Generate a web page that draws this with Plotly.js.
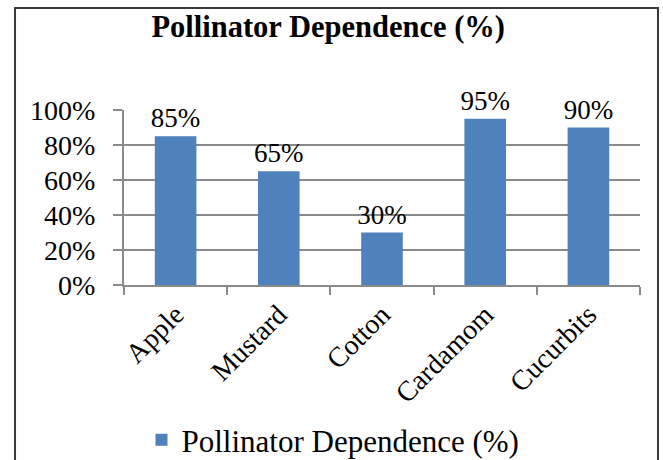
<!DOCTYPE html>
<html>
<head>
<meta charset="utf-8">
<script src="https://cdn.plot.ly/plotly-3.0.1.min.js"></script>
<style>
html,body{margin:0;padding:0;background:#fff;}
#chart{width:663px;height:460px;}
</style>
</head>
<body>
<div id="chart"></div>
<script>
const categories = ["Apple", "Mustard", "Cotton", "Cardamom", "Cucurbits"];
const dependence = [85, 65, 30, 95, 90];
const seriesName = "Pollinator Dependence (%)";
const yTickValues = [0, 20, 40, 60, 80, 100];
const yTickLabels = ["0%", "20%", "40%", "60%", "80%", "100%"];

const FONT = '"Liberation Serif", "Times New Roman", Times, serif';
const GRID = '#8a8a8a';

const trace = {
  type: 'bar',
  x: categories,
  y: dependence,
  name: seriesName,
  marker: {color: '#4F81BD'},
  text: dependence.map(v => v + '%'),
  textposition: 'outside',
  constraintext: 'none',
  cliponaxis: false,
  textfont: {family: FONT, size: 27, color: '#000'},
  hoverinfo: 'skip',
  showlegend: true
};

const layout = {
  width: 663,
  height: 460,
  margin: {l: 124, r: 23, t: 110, b: 175, autoexpand: false},
  paper_bgcolor: '#fff',
  plot_bgcolor: '#fff',
  font: {family: FONT, color: '#000'},
  title: {
    text: '<b>Pollinator Dependence (%)</b>',
    font: {family: FONT, size: 30.5, color: '#000'},
    x: 0.495, xref: 'container', xanchor: 'center',
    y: 0.943, yref: 'container', yanchor: 'middle'
  },
  bargap: 0.597,
  xaxis: {
    type: 'category',
    range: [-0.5, 4.5],
    showline: true, linecolor: GRID, linewidth: 2,
    ticks: 'outside', tickson: 'boundaries', ticklen: 8, tickcolor: GRID, tickwidth: 2,
    tickangle: -45,
    tickfont: {family: FONT, size: 28, color: '#000'},
    showgrid: false, zeroline: false
  },
  yaxis: {
    range: [0, 100],
    tickvals: yTickValues,
    ticktext: yTickLabels,
    showline: true, linecolor: GRID, linewidth: 2,
    ticks: 'outside', ticklen: 9, tickcolor: GRID, tickwidth: 2,
    ticklabelstandoff: 12,
    tickfont: {family: FONT, size: 28, color: '#000'},
    showgrid: true, gridcolor: GRID, gridwidth: 2,
    zeroline: false
  },
  showlegend: true,
  legend: {
    orientation: 'h',
    x: 0.405, xanchor: 'center',
    y: -0.886, yanchor: 'middle',
    font: {family: FONT, size: 31, color: '#000'},
    bgcolor: 'rgba(0,0,0,0)'
  },
  shapes: [{
    type: 'rect', xref: 'paper', yref: 'paper',
    x0: -0.2112, x1: 1.0349, y0: -1.3, y1: 1.583,
    line: {color: '#3a3a3a', width: 2},
    fillcolor: 'rgba(0,0,0,0)', layer: 'below'
  }]
};

Plotly.newPlot('chart', [trace], layout, {displayModeBar: false, staticPlot: true});
</script>
</body>
</html>
